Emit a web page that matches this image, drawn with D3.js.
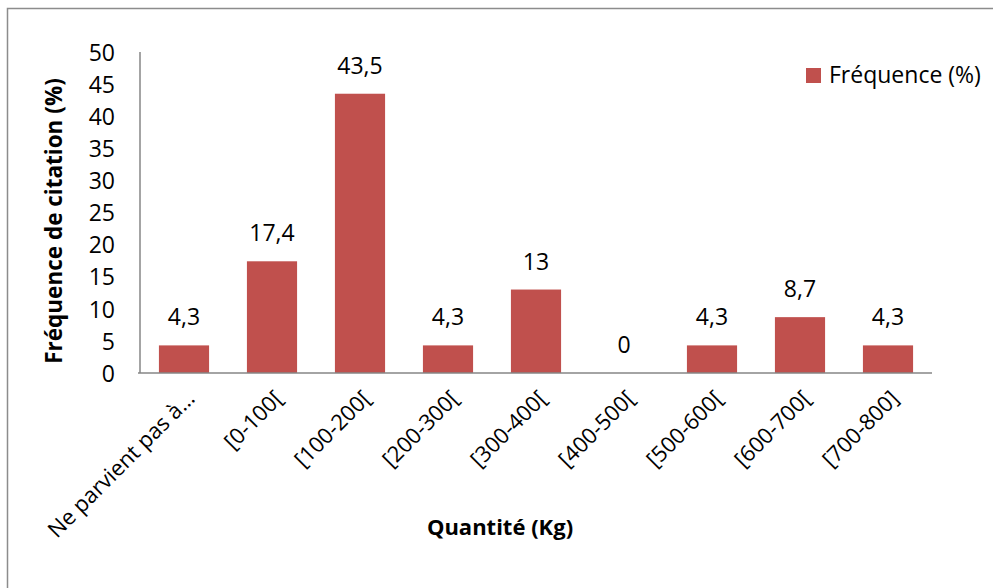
<!DOCTYPE html>
<html>
<head>
<meta charset="utf-8">
<script src="https://cdn.jsdelivr.net/npm/d3@7"></script>
<style>
  html, body { margin: 0; padding: 0; background: #fff; }
  svg { display: block; }
  text { font-family: "Open Sans", sans-serif; fill: #000; }
</style>
</head>
<body>
<script>
// Quantity classes and their citation frequency (%)
const categories = ["Ne parvient pas à…", "[0-100[", "[100-200[", "[200-300[", "[300-400[", "[400-500[", "[500-600[", "[600-700[", "[700-800]"];
const frequences = [4.3, 17.4, 43.5, 4.3, 13, 0, 4.3, 8.7, 4.3];
const yTicks = [0, 5, 10, 15, 20, 25, 30, 35, 40, 45, 50];
const seriesName = "Fréquence (%)";
const yTitle = "Fréquence de citation (%)";
const xTitle = "Quantité (Kg)";

const W = 993, H = 588;
const plot = { left: 140, right: 932, top: 52, bottom: 373 };
const barColor = "#C0504D";
const font = "'Open Sans', sans-serif";
const fs = "23px";

const svg = d3.select("body").append("svg").attr("width", W).attr("height", H);

// outer chart frame
svg.append("rect")
  .attr("x", 7.5).attr("y", 8.5)
  .attr("width", W + 20).attr("height", H + 20)
  .attr("fill", "none").attr("stroke", "#8c8c8c").attr("stroke-width", 1.5);

const x = d3.scaleBand().domain(categories).range([plot.left, plot.right]).paddingInner(0.43).paddingOuter(0.215);
const y = d3.scaleLinear().domain([0, 50]).range([plot.bottom, plot.top]);

// y axis: labels only
const yAxis = svg.append("g").attr("transform", `translate(${plot.left},0)`)
  .call(d3.axisLeft(y).tickValues(yTicks).tickSize(0).tickPadding(0));
yAxis.select(".domain").remove();
yAxis.selectAll("text")
  .attr("x", -25).attr("dy", "0.36em")
  .style("font-size", fs).style("font-family", font);

// bars
svg.append("g").selectAll("rect").data(frequences).join("rect")
  .attr("x", (d, i) => x(categories[i]))
  .attr("y", d => y(d))
  .attr("width", x.bandwidth())
  .attr("height", d => y(0) - y(d))
  .attr("fill", barColor);

// axis lines
svg.append("line")
  .attr("x1", plot.left).attr("x2", plot.left)
  .attr("y1", plot.top).attr("y2", plot.bottom)
  .attr("stroke", "#868686").attr("stroke-width", 1.5);
svg.append("line")
  .attr("x1", plot.left - 2).attr("x2", plot.right)
  .attr("y1", plot.bottom).attr("y2", plot.bottom)
  .attr("stroke", "#868686").attr("stroke-width", 1.5);

// value labels
svg.append("g").selectAll("text").data(frequences).join("text")
  .attr("x", (d, i) => x(categories[i]) + x.bandwidth() / 2)
  .attr("y", d => y(d) - 20)
  .attr("text-anchor", "middle")
  .style("font-size", fs)
  .text(d => String(d).replace(".", ","));

// category labels, rotated
const xAxis = svg.append("g").attr("transform", `translate(0,${plot.bottom})`)
  .call(d3.axisBottom(x).tickSize(0).tickPadding(0));
xAxis.select(".domain").remove();
xAxis.selectAll("text")
  .attr("text-anchor", "end")
  .attr("dy", 0).attr("y", 0)
  .attr("transform", "translate(12,27) rotate(-45)")
  .style("font-size", "22px").style("font-family", font);

// axis titles
svg.append("text")
  .attr("transform", `translate(62,221) rotate(-90)`)
  .attr("text-anchor", "middle")
  .style("font-size", "22.5px").style("font-weight", "bold")
  .text(yTitle);
svg.append("text")
  .attr("x", 500).attr("y", 535)
  .attr("text-anchor", "middle")
  .style("font-size", "22px").style("font-weight", "bold")
  .text(xTitle);

// legend
const legend = svg.append("g").attr("transform", "translate(806,68)");
legend.append("rect").attr("width", 15).attr("height", 15).attr("fill", barColor);
legend.append("text").attr("x", 23).attr("y", 15).style("font-size", fs).text(seriesName);
</script>
</body>
</html>
